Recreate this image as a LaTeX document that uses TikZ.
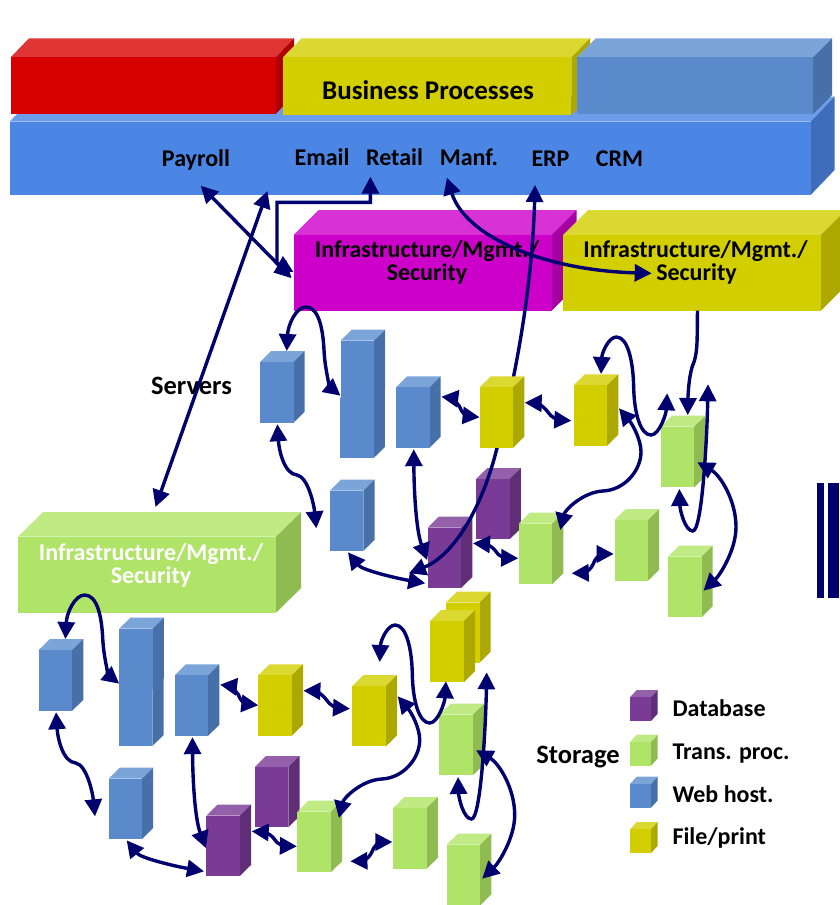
\documentclass[tikz,border=0pt]{standalone}
\usepackage{fontspec}
\setmainfont{Carlito}
\usepackage{xcolor}
\usetikzlibrary{arrows.meta, calc}

\definecolor{bluefront}{HTML}{5A8ACB}
\definecolor{bluetop}{HTML}{7BA4D9}
\definecolor{blueside}{HTML}{4870A8}
\definecolor{yellowfront}{HTML}{D3CE00}
\definecolor{yellowtop}{HTML}{DCD832}
\definecolor{yellowside}{HTML}{ADA800}
\definecolor{purplefront}{HTML}{7A3B96}
\definecolor{purpletop}{HTML}{9560AA}
\definecolor{purpleside}{HTML}{5F2E76}
\definecolor{greenfront}{HTML}{B0E468}
\definecolor{greentop}{HTML}{C0EB84}
\definecolor{greenside}{HTML}{8FBB50}
\definecolor{redfront}{HTML}{D60000}
\definecolor{redtop}{HTML}{E03535}
\definecolor{redside}{HTML}{AF0000}
\definecolor{barfront}{HTML}{4C86E4}
\definecolor{bartop}{HTML}{6C9CEA}
\definecolor{barside}{HTML}{3E6EBB}
\definecolor{magentafront}{HTML}{CC00C8}
\definecolor{magentatop}{HTML}{D832D6}
\definecolor{magentaside}{HTML}{A400A2}
\definecolor{linknavy}{HTML}{00006E}

\tikzset{
  cubeface/.style={inner sep=0pt, outer sep=0pt, rectangle},
  link/.style={draw=linknavy, line width=3.4pt, {Triangle[length=17pt,width=17pt]}-{Triangle[length=17pt,width=17pt]}},
  linkout/.style={draw=linknavy, line width=3.4pt, -{Triangle[length=17pt,width=17pt]}},
  label/.style={font=\fontsize{27}{30}\selectfont\bfseries, anchor=base, inner sep=0pt, yshift=-1.3pt},
  applabel/.style={font=\fontsize{24}{28}\selectfont\bfseries, anchor=base, inner sep=0pt, yshift=-1.3pt},
  sidelabel/.style={font=\fontsize{26.5}{30}\selectfont\bfseries, anchor=base, inner sep=0pt, yshift=-1.3pt},
  keylabel/.style={font=\fontsize{24}{28}\selectfont\bfseries, anchor=base west, inner sep=0pt, yshift=-1.3pt},
}

% name, tone, x, y, width, height, depth x, depth y
\providecommand{\Cube}[8]{
  \fill[#2top] (#3,#4) -- ++(#7,-#8) -- ++(#5,0) -- ++(-#7,#8) -- cycle;
  \fill[#2side] (#3+#5,#4) -- ++(#7,-#8) -- ++(0,#6) -- ++(-#7,#8) -- cycle;
  \node[cubeface, fill=#2front, minimum width=#5 pt, minimum height=#6 pt] (#1) at (#3+#5/2,#4+#6/2) {};
}
\providecommand{\FarmBack}{
  \Cube{p1}{purple}{476.1}{479}{33.5}{60.3}{11.2}{11}
  \Cube{p2}{purple}{427.6}{527.7}{33.5}{60.3}{11.2}{11}
}
% #1 is the top of the second yellow server
\providecommand{\FarmFront}[1]{
  \Cube{b1}{blue}{260}{362}{33.5}{60.7}{11.2}{11}
  \Cube{b2l}{blue}{340.2}{398}{33.5}{60}{11.2}{11}
  \Cube{b2}{blue}{340.5}{340.7}{33.5}{60}{11.2}{11}
  \Cube{b3}{blue}{396}{387.3}{33.5}{60.4}{11.2}{11}
  \Cube{b4}{blue}{329.8}{490.7}{33.5}{60.3}{11.2}{11}
  \Cube{y1}{yellow}{479.6}{387.3}{33.5}{60.4}{11.2}{11}
  \Cube{y2}{yellow}{573.6}{#1}{33.5}{60.4}{11.2}{11}
  \Cube{g1}{green}{660.7}{426.7}{33.5}{60.6}{11.2}{11}
  \Cube{g2}{green}{518.6}{523.7}{33.5}{60.6}{11.2}{11}
  \Cube{g3}{green}{614.5}{520}{33.5}{60.7}{11.2}{11}
  \Cube{g4}{green}{668}{556.7}{33.5}{60.6}{11.2}{11}
}
\providecommand{\FarmLinks}{
  \coordinate (y2west) at (571.3,420.7);
  \coordinate (y2top) at (601,374);
  \coordinate (y2east) at (619,408.3);
  \draw[link] ($ (b1.north)+(10,-11) $) .. controls (288,325) and (296,307) .. (306,307) .. controls (319,307) and (323,330) .. (324,350) .. controls (325,372) and (331,388) .. ($ (b2.south west)+(0,-5) $);
  \draw[link] ($ (b1.south)+(0.6,1.5) $) .. controls (279,450) and (284,474) .. (297,475) .. controls (308,477) and (314,505) .. ($ (b4.west)+(-13.5,7.5) $);
  \draw[link] ($ (b3.south)+(1,1.5) $) .. controls (414,490) and (416,530) .. ($ (p2.west)+(-0.4,2.2) $);
  \draw[link] ($ (b4.south)+(1.4,1.3) $) .. controls (362,570) and (395,578) .. ($ (p2.south west)+(-2.3,-4.7) $);
  \draw[link] ($ (b3.east)+(11.9,-20.8) $) .. controls (452,398) and (456,402) .. (459.7,406.7) .. controls (462,414) and (468,416) .. ($ (y1.west)+(0,-0.2) $);
  \draw[link] ($ (y1.east)+(11.6,-14.8) $) .. controls (535,403) and (543,405) .. (547.6,411.7) .. controls (551,418) and (560,420) .. (y2west);
  \draw[link] ($ (p1.south west)+(-3.1,4) $) .. controls (484,544) and (491,545) .. (495.3,550.7) .. controls (498,557) and (508,558) .. ($ (g2.west)+(-0.4,4.3) $);
  \draw[link] ($ (g2.south east)+(19.6,-11) $) .. controls (582,573) and (590,572) .. (593.5,563.3) .. controls (596,556) and (603,554) .. ($ (g3.west)+(-0.8,3.6) $);
  \draw[link] (y2top) .. controls (602,352) and (609,337) .. (616.4,337) .. controls (628,337) and (633,362) .. (633.6,385) .. controls (634,415) and (641,435) .. (651,435) .. controls (659,435) and (666,415) .. ($ (g1.north west)+(6.5,-33.4) $);
  \draw[link] (y2east) .. controls (633,425) and (641,440) .. (641,452) .. controls (641,470) and (625,490) .. (603,491) .. controls (583,492) and (565,510) .. ($ (g2.north east)+(8.1,6.3) $);
  \draw[link] ($ (g1.south)+(1.9,1.7) $) .. controls (680,510) and (685,531) .. (692.8,531) .. controls (702,531) and (707,440) .. ($ (g1.north east)+(13.8,-42.4) $);
  \draw[link] ($ (g1.east)+(3.2,5.3) $) .. controls (720,475) and (736,500) .. (736,527) .. controls (736,550) and (720,575) .. ($ (g4.east)+(2,3.7) $);
}

\begin{document}
\begin{tikzpicture}[x=1pt, y=-1pt]
	\useasboundingbox (0,0) rectangle (839,905);

	% application bar and the business row on top of it
	\Cube{apps}{bar}{9.6}{121.7}{801}{73.3}{24}{25}
	\Cube{red}{red}{10.7}{57.3}{265}{56.7}{18.3}{19}
	\Cube{proc}{yellow}{283}{57.3}{288.4}{57.7}{18.6}{19}
	\Cube{web}{blue}{576.8}{57.3}{236.2}{56.7}{19}{19}

	\node[label] (business) at (428,97.7) {Business Processes};
	\node[applabel] (payroll) at (196,165) {Payroll};
	\node[applabel] (email) at (322,164) {Email};
	\node[applabel] (retail) at (394.5,164) {Retail};
	\node[applabel] (manf) at (469,164) {Manf.};
	\node[applabel] (erp) at (550.5,165.5) {ERP};
	\node[applabel] (crm) at (619.5,165.5) {CRM};

	% infrastructure boxes
	\Cube{mgmtm}{magenta}{293.7}{235}{257.9}{75.7}{25}{25}
	\Cube{mgmty}{yellow}{563}{235}{257.8}{75.7}{25}{25}
	\Cube{mgmtg}{green}{18}{536.7}{258}{76}{25}{24.5}

	\node[applabel] (secm) at (427,256) {Infrastructure/Mgmt./};
	\node[applabel] (secmb) at (427,279) {Security};
	\node[applabel] (secy) at (695.5,256) {Infrastructure/Mgmt./};
	\node[applabel] (secyb) at (696.5,279) {Security};
	\node[applabel, white] (secg) at (151,559) {Infrastructure/Mgmt./};
	\node[applabel, white] (secgb) at (151,581.7) {Security};

	\node[sidelabel] (servers) at (191.5,393) {Servers};
	\node[sidelabel] (storage) at (578,762) {Storage};

	% upper server group
	\FarmBack
	\draw[link] ($ (p2.west)+(-18.6,15.4) $) .. controls (455,555) and (483,505) .. (497,448) .. controls (515,380) and (532,290) .. ($ (apps.south)+(125,-10) $);
	\FarmFront{385.3}
	\FarmLinks

	% lower server group
	\begin{scope}[shift={(-221.3,288)}, name prefix=low]
		\FarmBack
		\FarmFront{398}
		\Cube{y3}{yellow}{667}{314.7}{33.8}{60}{11.2}{11}
		\Cube{y4}{yellow}{651.3}{333}{34}{61}{11.2}{11}
		\FarmLinks
	\end{scope}

	% links between the layers
	\coordinate (mgmttip) at ($ (mgmtm.west)+(-2.1,5.4) $);
	\draw[link] ($ (apps.south)+(-209.4,-9.3) $) -- (mgmttip);
	\draw[link] ($ (apps.south)+(-142.6,-4) $) -- ($ (mgmtg.north)+(8.5,-29.7) $);
	\draw[link] ($ (apps.south)+(-39.7,-18.3) $) -- ++(0,25.6) -| (277,263) -- (293.5,272);
	\draw[link] ($ (apps.south)+(36.8,-17.3) $) .. controls (465,235) and (540,270) .. ($ (mgmty.west)+(88.7,0.5) $);
	\draw[linkout] ($ (mgmty.south)+(5.6,0) $) .. controls (697,335) and (698,350) .. (694,362) .. controls (689,372) and (688,395) .. ($ (g1.north)+(10.3,-11.7) $);

	% legend
	\Cube{keydb}{purple}{630}{697.3}{21}{23.7}{6.7}{7.3}
	\Cube{keytr}{green}{630}{742}{21}{23.7}{6.7}{7.3}
	\Cube{keywh}{blue}{630}{784}{21}{23.7}{6.7}{7.3}
	\Cube{keyfp}{yellow}{630}{829.3}{21}{23.7}{6.7}{7.3}
	\node[keylabel] (txtdb) at (672.3,715) {Database};
	\node[keylabel] (txttr) at (672.3,757.7) {Trans. proc.};
	\node[keylabel] (txtwh) at (672.3,800.7) {Web host.};
	\node[keylabel] (txtfp) at (672.3,843.3) {File/print};

	% double bar on the right
	\fill[linknavy] (816.6,482.7) rectangle (823.9,597.7);
	\fill[linknavy] (827.7,482.7) rectangle (839,597.7);
\end{tikzpicture}
\end{document}
